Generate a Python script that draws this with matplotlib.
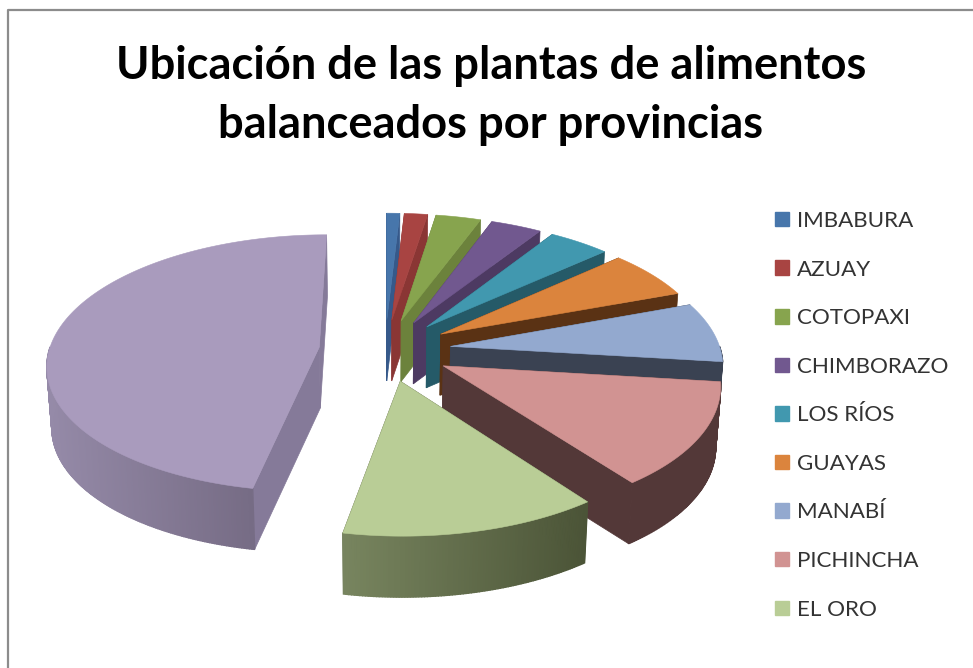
import matplotlib
matplotlib.use('Agg')
import matplotlib.pyplot as plt
import numpy as np
from matplotlib.patches import Patch

labels = ['IMBABURA', 'AZUAY', 'COTOPAXI', 'CHIMBORAZO', 'LOS RÍOS', 'GUAYAS', 'MANABÍ', 'PICHINCHA', 'EL ORO']
# last slice has no legend entry in the original (legend is cut off)
values = [0.9, 1.6, 3.1, 3.5, 4.2, 6.1, 7.5, 12.9, 13.2, 47]
top_colors = ['#4776ab', '#a84442', '#87a44e', '#71588f', '#4198af', '#db843d', '#93a9cf', '#d19392', '#b9cd96', '#a99bbd']
edge_colors = ['#36598a', '#8a3634', '#6c823c', '#4d3a62', '#255a68', '#5a3214', '#3a4252', '#533838', '#4d5438', '#857a99']
wall_left = ['#36598a', '#8a3634', '#6c823c', '#4d3a62', '#255a68', '#5a3214', '#3a4252', '#533838', '#78855f', '#958aa8']
wall_right = ['#36598a', '#8a3634', '#6c823c', '#4d3a62', '#255a68', '#5a3214', '#3a4252', '#533838', '#4b5437', '#6b6178']

cx, cy = 385, 350
rx, ry = 270, 127
explode = 0.245
persp = 0.125
depth = 61


def project(u, v, low=False):
    f = 1 / (1 - persp * v)
    x = rx * u * f
    y = cy + ry * v * f
    if low:
        return cx + x * 0.985, y + depth
    return cx + x, y


def mix(c1, c2, t):
    a = np.array(matplotlib.colors.to_rgb(c1))
    b = np.array(matplotlib.colors.to_rgb(c2))
    return tuple(a + (b - a) * t)


fig = plt.figure(figsize=(9.73, 6.68), dpi=100)
ax = fig.add_axes([0, 0, 1, 1])
ax.set_xlim(0, 973)
ax.set_ylim(668, 0)
ax.axis('off')

# chart frame, only left and top survive in the screenshot
ax.plot([8, 8, 973], [668, 10, 10], color='#8c8c8c', lw=1.6, solid_capstyle='butt')

edges = np.cumsum([0] + values) / sum(values) * 2 * np.pi
for i in range(len(values)):
    a0, a1 = edges[i], edges[i + 1]
    mid = (a0 + a1) / 2
    ou, ov = explode * np.sin(mid), -explode * np.cos(mid)
    th = np.linspace(a0, a1, max(int(np.degrees(a1 - a0)) * 2, 4))
    us = ou + np.sin(th)
    vs = ov - np.cos(th)

    # straight side walls
    for u, v in [(us[0], vs[0]), (us[-1], vs[-1])]:
        p = [project(ou, ov), project(u, v), project(u, v, True), project(ou, ov, True)]
        ax.fill(*zip(*p), color=edge_colors[i], lw=0.5)

    # outer wall, shaded left to right
    xs_top = [project(u, v)[0] for u, v in zip(us, vs)]
    xmin, xmax = min(xs_top), max(xs_top)
    for j in range(len(th) - 1):
        if vs[j] + vs[j + 1] < 2 * ov:
            continue
        t = (xs_top[j] - xmin) / max(xmax - xmin, 1)
        c = mix(wall_left[i], wall_right[i], t)
        p = [project(us[j], vs[j]), project(us[j + 1], vs[j + 1]),
             project(us[j + 1], vs[j + 1], True), project(us[j], vs[j], True)]
        ax.fill(*zip(*p), color=c, lw=1.0)

    # top surface
    p = [project(ou, ov)] + [project(u, v) for u, v in zip(us, vs)]
    ax.fill(*zip(*p), color=top_colors[i], lw=0.4)

ax.text(491, 66, 'Ubicación de las plantas de alimentos', ha='center', va='center',
        fontsize=32.6, fontweight='bold', family='Lato', color='black')
ax.text(491, 125, 'balanceados por provincias', ha='center', va='center',
        fontsize=32.6, fontweight='bold', family='Lato', color='black')

handles = [Patch(color=top_colors[i], label=labels[i]) for i in range(len(labels))]
ax.legend(handles=handles, loc='upper left', bbox_to_anchor=(775 / 973, 1 - 211 / 668),
          frameon=False, prop={'family': 'Lato', 'size': 16.1}, labelcolor='#333333',
          handlelength=0.62, handleheight=0.62, handletextpad=0.36,
          labelspacing=1.278, borderpad=0, borderaxespad=0)

plt.savefig('out.png', dpi=100)
